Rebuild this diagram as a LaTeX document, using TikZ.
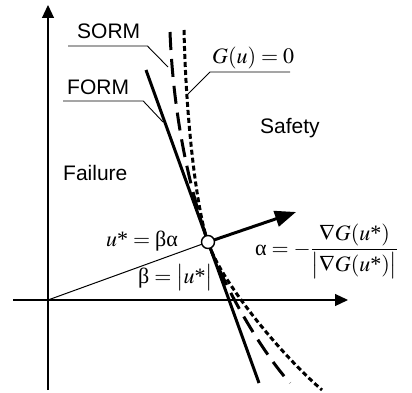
\documentclass[tikz,border=0pt]{standalone}
\usepackage{mathptmx}
\usepackage{fontspec}
\setmainfont{Liberation Serif}
\newfontfamily\labelfont{Liberation Sans}
\usetikzlibrary{arrows.meta}
\newcommand{\ualpha}{\mbox{α}}
\newcommand{\ubeta}{\mbox{β}}
\newcommand{\ustr}{u\mbox{*}}

\begin{document}
\begin{tikzpicture}[
    x=1pt, y=1pt,
    axis/.style={-{Triangle[length=13pt,width=12pt]}, line width=1.2pt},
    limit/.style={line width=3pt},
    sorm/.style={limit, dash pattern=on 18pt off 9pt},
    gcurve/.style={limit, dash pattern=on 5pt off 3pt},
    leader/.style={line width=0.9pt},
    label/.style={font=\labelfont\fontsize{21}{24}\selectfont, inner sep=0pt, anchor=base west},
    eq/.style={font=\fontsize{22}{26}\selectfont, inner sep=0pt, anchor=base west},
    arrow/.style={-{Triangle[length=21pt,width=16pt]}, line width=3pt},
    point/.style={circle, draw, fill=white, line width=1.4pt, minimum size=13pt, inner sep=0pt}
]
    \useasboundingbox (0,0) rectangle (412,392);

    \coordinate (O) at (48,92);
    \coordinate (u) at (208,150);
    \coordinate (ytop) at (48,387);
    \coordinate (ybot) at (48,2);
    \coordinate (xleft) at (13,92);
    \coordinate (xright) at (348,92);
    \coordinate (tip) at (296,180);
    \coordinate (formtop) at (146,322);
    \coordinate (formbot) at (259,9);
    \coordinate (sormtop) at (170,360);
    \coordinate (sormbot) at (290,9);
    \coordinate (gtop) at (184,362);
    \coordinate (gbot) at (322,2);
    \coordinate (sormpt) at (168,325);
    \coordinate (formpt) at (163,270);
    \coordinate (gpt) at (188,298);

    \draw[axis] (ybot) -- (ytop);
    \draw[axis] (xleft) -- (xright);

    \draw[limit] (formtop) -- (formbot);
    \draw[sorm] (sormtop) .. controls (174,260) and (195,188) .. (u)
        .. controls (225,103) and (262,40) .. (sormbot);
    \draw[gcurve] (gtop) .. controls (186,270) and (197,180) .. (u)
        .. controls (219,114) and (278,40) .. (gbot);

    \draw[line width=1pt] (O) -- (u);
    \draw[arrow] (u) -- (tip);

    \node[label] (sorm) at (77,353) {SORM};
    \node[label] (form) at (67,298) {FORM};
    \node[eq] (gzero) at (212,329) {$G(u) = 0$};
    \node[label] (safety) at (260,259) {Safety};
    \node[label] (failure) at (63,212) {Failure};
    \node[eq] (design) at (106,146) {$\ustr = \ubeta\ualpha$};
    \node[eq] (beta) at (138,109) {$\ubeta =\bigl|\ustr\bigr|$};
    \node[eq] (alpha) at (255,137) {$\ualpha = -\displaystyle\frac{\nabla G(\ustr)}{\bigl|\nabla G(\ustr)\bigr|}$};

    \draw[leader] ([xshift=-9pt,yshift=-7pt]sorm.base west) -- ([xshift=7pt,yshift=-7pt]sorm.base east) -- (sormpt);
    \draw[leader] ([xshift=-4pt,yshift=-7pt]form.base west) -- ([xshift=14pt,yshift=-7pt]form.base east) -- (formpt);
    \draw[leader] ([xshift=-4pt,yshift=-9pt]gzero.base east) -- ([xshift=-2pt,yshift=-9pt]gzero.base west) -- (gpt);

    \node[point] (ustar) at (u) {};
\end{tikzpicture}
\end{document}
